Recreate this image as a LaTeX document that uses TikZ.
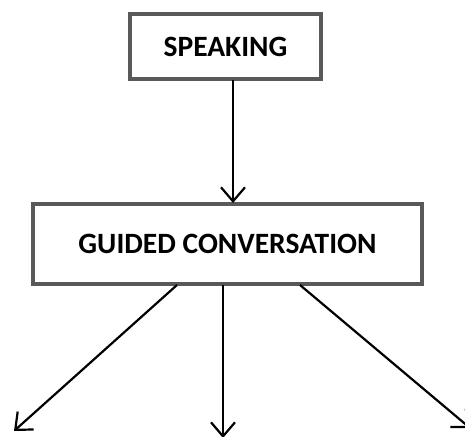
\documentclass[tikz,border=0pt]{standalone}
\usepackage{fontspec}
\setmainfont{Carlito}
\usetikzlibrary{arrows.meta}
\definecolor{boxgray}{RGB}{89,89,89}
\begin{document}
\begin{tikzpicture}[x=1pt,y=-1pt,
  box/.style={draw=boxgray, line width=4.5pt, fill=white, inner sep=0pt, font=\fontsize{29.5}{34}\selectfont\bfseries},
  conn/.style={draw=black, line width=2.2pt, -{Straight Barb[length=14pt,width=24pt,line width=2.2pt]}}]
\useasboundingbox (0,0) rectangle (465,436);
\node[box, minimum width=191pt, minimum height=65pt] (speak) at (225.5,46.5) {SPEAKING};
\node[box, minimum width=389pt, minimum height=80pt] (guided) at (227.5,244) {GUIDED CONVERSATION};
\coordinate (s1) at (233,80);
\coordinate (g1) at (233,203);
\coordinate (b1) at (177,285);
\coordinate (b2) at (223,285);
\coordinate (b3) at (300,285);
\coordinate (e1) at (14,431);
\coordinate (e2) at (223,438);
\coordinate (e3) at (470,428);
\draw[conn] (s1) -- (g1);
\draw[conn] (b1) -- (e1);
\draw[conn] (b2) -- (e2);
\draw[conn] (b3) -- (e3);
\end{tikzpicture}
\end{document}
